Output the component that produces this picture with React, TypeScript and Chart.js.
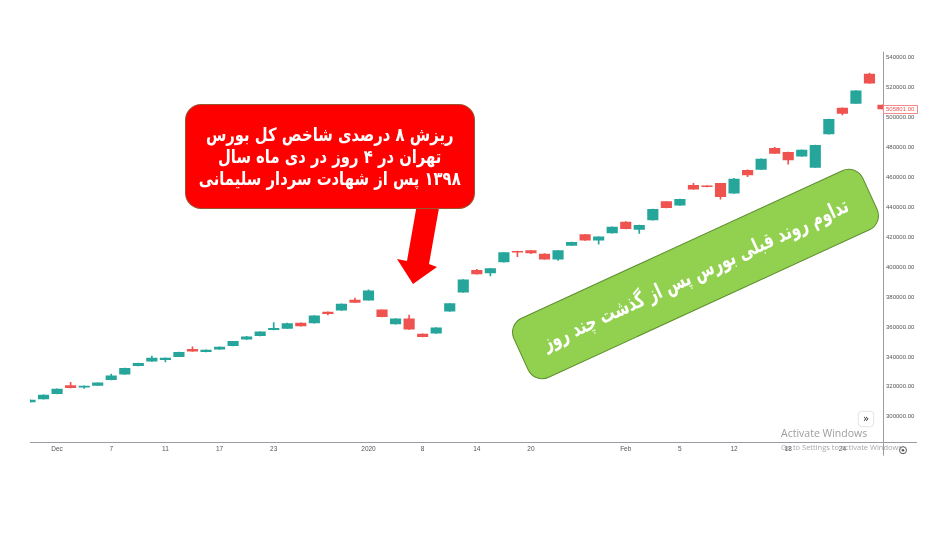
import React, { useEffect, useRef } from "react";
import { Chart, registerables } from "chart.js";

Chart.register(...registerables);

// ---- data ----
const categories = [
  "2019-11-27", "2019-11-30", "2019-12-01", "2019-12-02", "2019-12-03", "2019-12-04", "2019-12-07", "2019-12-08",
  "2019-12-09", "2019-12-10", "2019-12-11", "2019-12-14", "2019-12-15", "2019-12-16", "2019-12-17", "2019-12-18",
  "2019-12-21", "2019-12-22", "2019-12-23", "2019-12-24", "2019-12-25", "2019-12-28", "2019-12-29", "2019-12-30",
  "2019-12-31", "2020-01-01", "2020-01-04", "2020-01-05", "2020-01-06", "2020-01-08", "2020-01-11", "2020-01-12",
  "2020-01-13", "2020-01-14", "2020-01-15", "2020-01-18", "2020-01-19", "2020-01-20", "2020-01-21", "2020-01-22",
  "2020-01-25", "2020-01-26", "2020-01-27", "2020-01-29", "2020-02-01", "2020-02-02", "2020-02-03", "2020-02-04",
  "2020-02-05", "2020-02-08", "2020-02-09", "2020-02-10", "2020-02-12", "2020-02-15", "2020-02-16", "2020-02-17",
  "2020-02-18", "2020-02-19", "2020-02-22", "2020-02-23", "2020-02-24", "2020-02-25", "2020-02-26", "2020-02-29",
];

const tickLabels: Record<string, string> = {
  "2019-12-01": "Dec", "2019-12-07": "7", "2019-12-11": "11", "2019-12-17": "17", "2019-12-23": "23",
  "2020-01-01": "2020", "2020-01-08": "8", "2020-01-14": "14", "2020-01-20": "20", "2020-02-01": "Feb",
  "2020-02-05": "5", "2020-02-12": "12", "2020-02-18": "18", "2020-02-24": "24",
};

const yTicks = [
  300000, 320000, 340000, 360000, 380000, 400000, 420000, 440000, 460000, 480000, 500000, 520000, 540000,
];

const opens = [
  309900, 311900, 315400, 320800, 319700, 321000, 324800, 328400, 334100, 337100,
  338100, 340200, 345100, 343500, 345100, 347500, 351800, 354200, 358200, 359100,
  362700, 362700, 370000, 371200, 378000, 378000, 371400, 362000, 365500, 355300,
  355800, 370500, 383200, 397900, 396100, 403500, 410500, 411000, 408800, 405400,
  414600, 421700, 418000, 422800, 430200, 425300, 431500, 443800, 441400, 454700,
  454400, 456000, 449400, 464700, 465400, 479400, 476800, 474100, 466700, 489000,
  506400, 509500, 529100, 508400,
];
const closes = [
  311200, 314500, 318500, 319400, 320500, 322600, 327400, 332400, 335700, 339300,
  339300, 343100, 343800, 344600, 346600, 350400, 353500, 356700, 359100, 362200,
  360700, 367500, 368900, 375400, 376500, 384100, 366900, 365500, 358500, 353500,
  359500, 375600, 391600, 395400, 399000, 409700, 410000, 409500, 405400, 411000,
  416600, 418000, 420200, 426800, 425700, 428000, 438700, 439700, 445400, 452200,
  453800, 447100, 458900, 461600, 472300, 476100, 471600, 478300, 481500, 498800,
  502800, 517900, 522900, 505801,
];
const highs = [
  311300, 314600, 318600, 323000, 320600, 322700, 328600, 332500, 335900, 340600,
  339400, 343200, 346800, 344700, 346800, 350500, 353700, 356800, 362900, 362600,
  362800, 367600, 370200, 375500, 379400, 384900, 371500, 365600, 368000, 355400,
  359600, 375700, 391700, 398600, 399100, 409800, 410700, 411100, 409000, 411100,
  416700, 421900, 420300, 427000, 430400, 428100, 438800, 443900, 445500, 456000,
  454500, 456100, 459300, 465000, 472400, 480100, 476900, 478500, 481600, 498900,
  506500, 518000, 529800, 508500,
];
const lows = [
  309800, 311800, 315300, 319300, 319000, 320900, 324700, 328300, 334000, 337000,
  336600, 340100, 343700, 343400, 345000, 347400, 351700, 354100, 358100, 359000,
  360500, 362600, 368000, 371100, 376400, 377900, 366800, 361900, 358400, 353400,
  355700, 370400, 383100, 395300, 394100, 403400, 407000, 409000, 405300, 404500,
  414500, 417900, 415300, 422700, 425600, 422600, 431400, 439600, 441300, 452100,
  453700, 445400, 449300, 460500, 465300, 476000, 468800, 474000, 466600, 488900,
  501700, 509400, 522800, 505700,
];

const lastPrice = 505801;
const yMin = 283330;
const yMax = 544010;

const UP = "#26a69a";
const DOWN = "#ef5350";
const AXIS = "#9a9ca3";
const TICK_FONT = "Liberation Sans";

const decorPlugin = {
  id: "decor",
  afterDraw(chart: any) {
    const { ctx, chartArea: a, scales } = chart;
    ctx.save();
    ctx.strokeStyle = AXIS;
    ctx.lineWidth = 1;
    ctx.beginPath();
    ctx.moveTo(a.left, Math.round(a.bottom) + 0.5);
    ctx.lineTo(a.right + 34, Math.round(a.bottom) + 0.5);
    ctx.moveTo(Math.round(a.right) + 0.5, a.top);
    ctx.lineTo(Math.round(a.right) + 0.5, a.bottom + 14);
    ctx.stroke();

    // last price label
    const y = scales.y.getPixelForValue(lastPrice);
    ctx.fillStyle = "#ffffff";
    ctx.strokeStyle = "#f28b89";
    ctx.lineWidth = 1;
    ctx.beginPath();
    ctx.rect(Math.round(a.right) + 0.5, Math.round(y - 4) + 0.5, 34, 8);
    ctx.fill();
    ctx.stroke();
    ctx.fillStyle = DOWN;
    ctx.font = `6px '${TICK_FONT}'`;
    ctx.textAlign = "left";
    ctx.textBaseline = "middle";
    ctx.fillText(lastPrice.toFixed(2), a.right + 3, y + 0.5);

    // settings icon
    const cx = a.right + 20;
    const cy = a.bottom + 8.5;
    ctx.strokeStyle = "#555";
    ctx.lineWidth = 1;
    ctx.beginPath();
    ctx.arc(cx, cy, 3.5, 0, Math.PI * 2);
    ctx.stroke();
    ctx.fillStyle = "#555";
    ctx.beginPath();
    ctx.arc(cx, cy, 1.3, 0, Math.PI * 2);
    ctx.fill();
    ctx.restore();
  },
};

export default function App() {
  const ref = useRef<HTMLCanvasElement>(null);

  useEffect(() => {
    const colors = categories.map((_, i) => (closes[i] >= opens[i] ? UP : DOWN));
    const chart = new Chart(ref.current as HTMLCanvasElement, {
      type: "bar",
      data: {
        labels: categories,
        datasets: [
          {
            label: "body",
            data: categories.map((_, i) => [opens[i], closes[i]]) as any,
            backgroundColor: colors,
            borderWidth: 0,
            barThickness: 10.5,
            grouped: false,
            clip: 0,
            order: 0,
          } as any,
          {
            label: "wick",
            data: categories.map((_, i) => [lows[i], highs[i]]) as any,
            backgroundColor: colors,
            borderWidth: 0,
            barThickness: 1,
            grouped: false,
            clip: 0,
            order: 1,
          } as any,
        ],
      },
      options: {
        animation: false,
        responsive: false,
        devicePixelRatio: 1,
        events: [],
        layout: { padding: { top: 51.7, left: 30, right: 0, bottom: 0 } },
        plugins: { legend: { display: false }, tooltip: { enabled: false } },
        scales: {
          x: {
            type: "category",
            offset: false,
            grid: { display: false, drawTicks: false },
            border: { display: false },
            ticks: {
              autoSkip: false,
              maxRotation: 0,
              minRotation: 0,
              padding: 4,
              color: "#555",
              font: { family: TICK_FONT, size: 6.5 },
              callback: (_v: any, i: number) => tickLabels[categories[i]] ?? "",
            },
            afterFit: (s: any) => {
              s.height = 106.3;
            },
          },
          y: {
            type: "linear",
            position: "right",
            min: yMin,
            max: yMax,
            grid: { display: false, drawTicks: false },
            border: { display: false },
            afterBuildTicks: (s: any) => {
              s.ticks = yTicks.map((v) => ({ value: v }));
            },
            ticks: {
              autoSkip: false,
              padding: 3,
              color: "#555",
              font: { family: TICK_FONT, size: 6 },
              callback: (v: any) => Number(v).toFixed(2),
            },
            afterFit: (s: any) => {
              s.width = 69;
            },
          },
        },
      } as any,
      plugins: [decorPlugin],
    });
    return () => chart.destroy();
  }, []);

  const arabicFont = "'DejaVu Sans', 'Noto Sans', sans-serif";

  return (
    <div
      style={{
        position: "fixed",
        left: 0,
        top: 0,
        width: 952,
        height: 548,
        background: "#ffffff",
        overflow: "hidden",
      }}
    >
      <canvas ref={ref} width={952} height={548} style={{ position: "absolute", left: 0, top: 0, display: "block" }} />

      {/* red arrow */}
      <svg width={952} height={548} style={{ position: "absolute", left: 0, top: 0 }}>
        <polygon points="417,204 439,208 429,264 437,267 413,284 397,259 407,261" fill="#ff0000" />
      </svg>

      {/* red callout */}
      <div
        style={{
          position: "absolute",
          left: 185,
          top: 104,
          width: 290,
          height: 105,
          boxSizing: "border-box",
          background: "#ff0000",
          border: "1px solid rgba(110,120,70,0.7)",
          borderRadius: 16,
          display: "flex",
          alignItems: "center",
          justifyContent: "center",
        }}
      >
        <div
          dir="rtl"
          style={{
            color: "#ffffff",
            fontFamily: arabicFont,
            fontWeight: "bold",
            fontSize: 18.5,
            lineHeight: "22px",
            textAlign: "center",
            whiteSpace: "nowrap",
            transform: "scaleX(0.8)",
          }}
        >
          <div>ریزش ۸ درصدی شاخص کل بورس</div>
          <div>تهران در ۴ روز در دی ماه سال</div>
          <div>۱۳۹۸ پس از شهادت سردار سلیمانی</div>
        </div>
      </div>

      {/* green callout */}
      <div
        style={{
          position: "absolute",
          left: 695.5 - 192.5,
          top: 273.5 - 33,
          width: 385,
          height: 66,
          boxSizing: "border-box",
          background: "#92d050",
          border: "1.5px solid #5e8f2f",
          borderRadius: 16,
          transform: "rotate(-24.7deg)",
          display: "flex",
          alignItems: "center",
          justifyContent: "center",
        }}
      >
        <div
          dir="rtl"
          style={{
            color: "#ffffff",
            fontFamily: arabicFont,
            fontWeight: "bold",
            fontSize: 21,
            whiteSpace: "nowrap",
            transform: "scaleX(0.71)",
          }}
        >
          تداوم روند قبلی بورس پس از گذشت چند روز
        </div>
      </div>

      {/* scroll button */}
      <div
        style={{
          position: "absolute",
          left: 859,
          top: 412,
          width: 14,
          height: 14,
          background: "#ffffff",
          borderRadius: 2,
          boxShadow: "0 0 2px rgba(0,0,0,0.35)",
          color: "#222",
          fontFamily: "'DejaVu Sans', sans-serif",
          fontSize: 10,
          lineHeight: "13px",
          textAlign: "center",
        }}
      >
        »
      </div>

      {/* watermark */}
      <div
        style={{
          position: "absolute",
          left: 781,
          top: 427,
          color: "rgba(140,140,140,0.85)",
          fontFamily: "'Open Sans', sans-serif",
          fontSize: 10.5,
          lineHeight: "13px",
          whiteSpace: "nowrap",
        }}
      >
        Activate Windows
      </div>
      <div
        style={{
          position: "absolute",
          left: 781,
          top: 442,
          color: "rgba(150,150,150,0.85)",
          fontFamily: "'Open Sans', sans-serif",
          fontSize: 7.5,
          lineHeight: "10px",
          whiteSpace: "nowrap",
        }}
      >
        Go to Settings to activate Windows.
      </div>
    </div>
  );
}
